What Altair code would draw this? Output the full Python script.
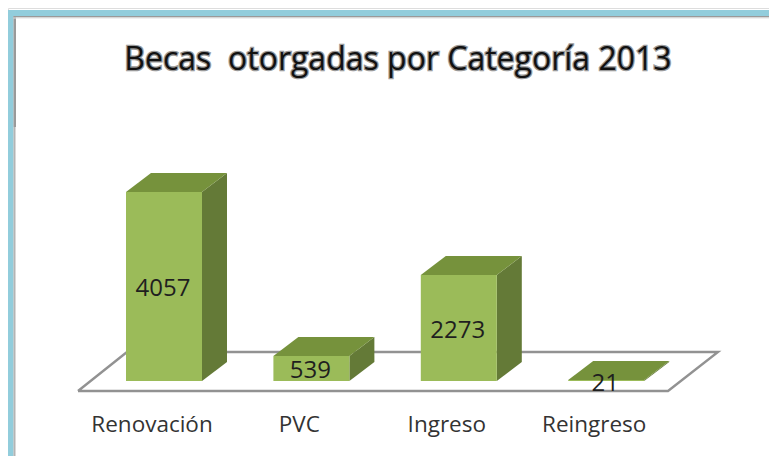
import altair as alt
import pandas as pd

categories = ["Renovación", "PVC", "Ingreso", "Reingreso"]
values = [4057, 539, 2273, 21]
title_text = "Becas \u00a0otorgadas por Categoría 2013"

W, H = 761, 448          # chart size; the page margin moves it by 8 px
PX = 0.0466              # pixels per unit of value
BASE = 373               # chart pixel of value 0
BAR_X0, STEP, BAR_W = 118, 147.4, 76
DX, DY = 25, 19          # oblique depth of the bars
GREEN_FRONT, GREEN_TOP, GREEN_SIDE = "#9bbb59", "#76923c", "#647a37"
BLUE = "#92cddc"
FONT = "Open Sans"


def v(py):
    """Chart pixel row -> value on the y scale."""
    return (BASE - py) / PX


x_scale = alt.Scale(domain=[0, W], range=[0, W], nice=False, zero=False)
y_scale = alt.Scale(domain=[v(H), v(0)], range=[H, 0], nice=False, zero=False)
X = lambda f: alt.X(f, type="quantitative", scale=x_scale, axis=None)
Y = lambda f: alt.Y(f, type="quantitative", scale=y_scale, axis=None)

front, side, top, labels = [], [], [], []
for i, (c, val) in enumerate(zip(categories, values)):
    x0 = BAR_X0 + i * STEP
    x1 = x0 + BAR_W
    d = DY / PX
    front.append(dict(c=c, x=x0, x2=x1, y=0, y2=val))
    side += [dict(c=c, x=x1, y=0, y2=val), dict(c=c, x=x1 + DX, y=d, y2=val + d)]
    top += [dict(c=c, y=val, x=x0, x2=x1), dict(c=c, y=val + d, x=x0 + DX, x2=x1 + DX)]
    labels.append(dict(c=c, v=str(val), xm=(x0 + x1) / 2 - 1, ym=val / 2, xl=(x0 + x1) / 2 - 12))

platform_pts = [(70, 383), (660, 383), (710, 344), (119, 344), (70, 383)]
platform = pd.DataFrame([dict(o=i, x=p[0], y=v(p[1])) for i, p in enumerate(platform_pts)])

platform_line = alt.Chart(platform).mark_line(color="#929292", strokeWidth=2.4, strokeJoin="miter").encode(
    x=X("x"), y=Y("y"), order="o:Q")

front_m = alt.Chart(pd.DataFrame(front)).mark_rect(color=GREEN_FRONT).encode(
    x=X("x"), x2="x2", y=Y("y"), y2="y2")
side_m = alt.Chart(pd.DataFrame(side)).mark_area(color=GREEN_SIDE, orient="vertical").encode(
    x=X("x"), y=Y("y"), y2="y2", detail="c:N")
top_m = alt.Chart(pd.DataFrame(top)).mark_area(color=GREEN_TOP, orient="horizontal").encode(
    y=Y("y"), x=X("x"), x2="x2", detail="c:N")

lab = pd.DataFrame(labels)
value_text = alt.Chart(lab).mark_text(font=FONT, fontSize=24, color="#1f1f1f", baseline="middle", dy=3).encode(
    x=X("xm"), y=Y("ym"), text="v:N")
cat_text = alt.Chart(lab).mark_text(font=FONT, fontSize=22.5, color="#333333", baseline="middle", dy=44).encode(
    x=X("xl"), y=alt.value(BASE), text="c:N")

title_df = pd.DataFrame({"t": [title_text]})
title_halo = alt.Chart(title_df).mark_text(font=FONT, fontSize=32, stroke="#9a9a9a", strokeWidth=2.6,
                                           color="#9a9a9a", baseline="middle").encode(
    x=alt.value(390), y=alt.value(52), text="t:N")
title_m = alt.Chart(title_df).mark_text(font=FONT, fontSize=32, color="#111111", baseline="middle").encode(
    x=alt.value(390), y=alt.value(52), text="t:N")

one = pd.DataFrame({"a": [0]})
bar_top = alt.Chart(one).mark_rect(color=BLUE).encode(
    x=alt.value(0), x2=alt.value(W), y=alt.value(2), y2=alt.value(8))
bar_left = alt.Chart(one).mark_rect(color=BLUE).encode(
    x=alt.value(0), x2=alt.value(5.5), y=alt.value(2), y2=alt.value(H))
shadow_a = alt.Chart(one).mark_rect(color="#9a9a9a").encode(
    x=alt.value(5.5), x2=alt.value(8), y=alt.value(8), y2=alt.value(119))
shadow_b = alt.Chart(one).mark_rect(color="#b4b4b4").encode(
    x=alt.value(5.5), x2=alt.value(7.5), y=alt.value(119), y2=alt.value(H))
shadow_c = alt.Chart(one).mark_rect(color="#9a9a9a").encode(
    x=alt.value(5.5), x2=alt.value(W), y=alt.value(8), y2=alt.value(9.5))
shadow_d = alt.Chart(one).mark_rect(color="#e2e2e2").encode(
    x=alt.value(5.5), x2=alt.value(W), y=alt.value(9.5), y2=alt.value(10.5))

chart = alt.layer(
    platform_line, side_m, top_m, front_m, value_text, cat_text,
    title_halo, title_m, bar_top, bar_left, shadow_a, shadow_b, shadow_c, shadow_d,
).resolve_scale(x="shared", y="shared").properties(
    width=W, height=H, padding=0, autosize=alt.AutoSizeParams(type="none"),
).configure_view(stroke=None).configure(background="white")

chart.save("out.html", embed_options={"renderer": "svg", "actions": False})
